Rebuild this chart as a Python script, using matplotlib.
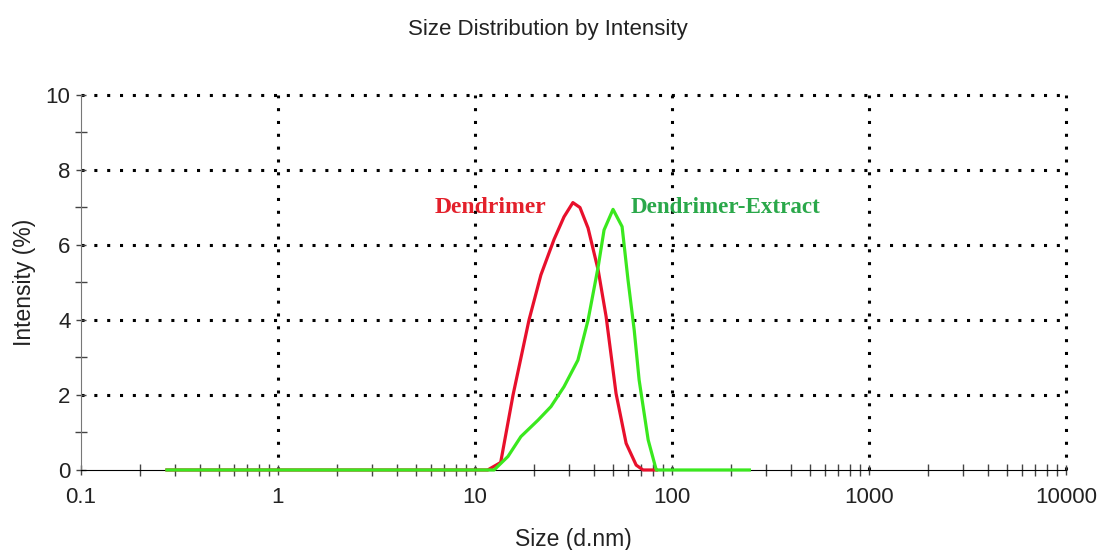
import matplotlib
matplotlib.use("Agg")
import matplotlib.pyplot as plt
from matplotlib.ticker import FixedLocator, NullFormatter

plt.rcParams['font.family'] = ['Liberation Sans', 'DejaVu Sans']

# size (d.nm) and intensity (%)
size_red = [0.273, 11.6, 13.5, 15.6, 18.8, 21.6, 25.2, 28.3, 31.4, 34.1,
            37.5, 42.2, 46.3, 52.0, 58.5, 65.8, 71.3, 83.2]
int_red = [0, 0, 0.2, 2.0, 4.0, 5.2, 6.15, 6.75, 7.13, 7.0,
           6.45, 5.33, 4.09, 2.04, 0.71, 0.13, 0.0, 0.0]

size_green = [0.273, 12.5, 14.7, 17.1, 20.9, 24.3, 28.3, 33.3, 37.5, 42.2,
              45.2, 50.2, 55.8, 59.8, 64.3, 68.1, 75.7, 83.2, 247]
int_green = [0, 0, 0.36, 0.89, 1.33, 1.69, 2.22, 2.93, 4.0, 5.42,
             6.4, 6.95, 6.49, 5.07, 3.73, 2.4, 0.8, 0, 0]

xticks = [0.1, 1, 10, 100, 1000, 10000]
xticklabels = ['0.1', '1', '10', '100', '1000', '10000']
yticks = [0, 2, 4, 6, 8, 10]

fig = plt.figure(figsize=(11.05, 5.5), dpi=100)
ax = fig.add_axes([0.0733, 0.1455, 0.8914, 0.6818])

ax.plot(size_red, int_red, color='#e8102c', lw=2.3, zorder=4, clip_on=False)
ax.plot(size_green, int_green, color='#3ae81e', lw=2.3, zorder=5, clip_on=False)

ax.set_xscale('log')
ax.set_xlim(0.1, 10000)
ax.set_ylim(0, 10)
ax.set_xticks(xticks)
ax.set_xticklabels(xticklabels)
ax.xaxis.set_minor_locator(FixedLocator(
    [m * 10.0 ** e for e in range(-1, 4) for m in range(2, 10)]))
ax.xaxis.set_minor_formatter(NullFormatter())
ax.set_yticks(yticks)
ax.set_yticks([1, 3, 5, 7, 9], minor=True)

ax.tick_params(which='both', direction='inout', colors='#444444',
               labelcolor='#222222', labelsize=16)
ax.tick_params(which='major', length=7, width=1)
ax.tick_params(which='minor', length=8, width=1)
ax.tick_params(axis='x', which='major', pad=9)
ax.tick_params(axis='y', which='major', pad=4)

# dotted grid; the lines along the axes themselves stay solid
ax.grid(True, which='major', color='black', lw=2.2,
        linestyle=(0, (1, 3.2)), dash_capstyle='butt')
xgl = ax.get_xgridlines()
ygl = ax.get_ygridlines()
for gl in xgl + ygl:
    gl.set_clip_on(False)
xgl[0].set_visible(False)
ygl[0].set_visible(False)
ax.set_axisbelow(True)

for s in ['top', 'right']:
    ax.spines[s].set_visible(False)
ax.spines['left'].set_color('#777777')
ax.spines['bottom'].set_color('black')

ax.set_xlabel('Size (d.nm)', fontsize=16.5, color='#222222', labelpad=14)
ax.set_ylabel('Intensity (%)', fontsize=16.5, color='#222222', labelpad=7)
fig.text(0.496, 0.946, 'Size Distribution by Intensity', fontsize=16,
         ha='center', va='center', color='#222222')

ax.text(12.0, 7.0, 'Dendrimer', color='#e3202b', fontsize=17,
        fontweight='bold', family=['Liberation Serif', 'DejaVu Serif'],
        ha='center', va='center')
ax.text(187, 7.0, 'Dendrimer-Extract', color='#2aa84a', fontsize=16.6,
        fontweight='bold', family=['Liberation Serif', 'DejaVu Serif'],
        ha='center', va='center')

fig.savefig('out.png', dpi=100)
